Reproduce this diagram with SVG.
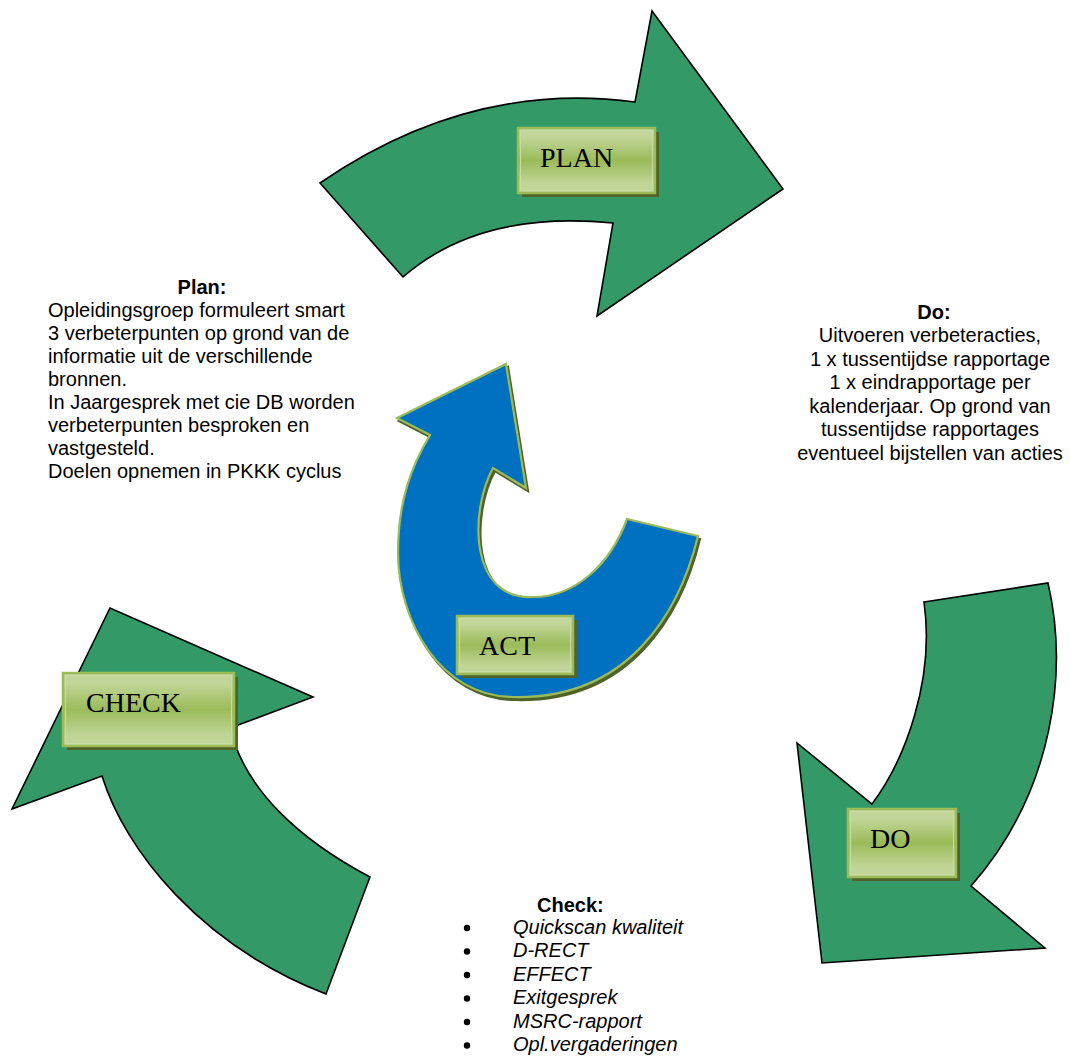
<svg xmlns="http://www.w3.org/2000/svg" width="1071" height="1061" viewBox="0 0 1071 1061">
<style>
.arrow{fill:#339966;stroke:#000;stroke-width:1.6;stroke-linejoin:miter}
.act{fill:#0070C0;stroke:#9BBB59;stroke-width:2.2}
.actsh{fill:#4F6228;stroke:#4F6228;stroke-width:2.2}
.boxsh{fill:#4F6228}
.box{fill:url(#boxg);stroke:#9BBB59;stroke-width:2.5}
.boxin{fill:none;stroke:#C9DCA6;stroke-width:1}
.lbl{font-family:"Liberation Serif","Times New Roman",serif;font-size:28px;fill:#000}
.t{font-family:"Liberation Sans",Arial,sans-serif;font-size:20px;fill:#000}
.bul{fill:#000}
.b{font-weight:bold}
.i{font-style:italic}
</style>
<defs>
<linearGradient id="boxg" x1="0" y1="0" x2="0" y2="1">
<stop offset="0" stop-color="#C3D69B"/>
<stop offset="0.15" stop-color="#C0D597"/>
<stop offset="0.5" stop-color="#9BBB59"/>
<stop offset="0.85" stop-color="#C0D597"/>
<stop offset="1" stop-color="#C3D69B"/>
</linearGradient>
</defs>
<g id="connectors"></g>
<g id="plan">
<path class="arrow" d="M320,183 Q470,80 635,102 L652,11 L783,189 L597,316 L613,223 Q480,210 403,277 Z"/>
<rect class="boxsh" x="522" y="132" width="137" height="65"/>
<rect class="box" x="518" y="128" width="137" height="65"/>
<rect class="boxin" x="520.5" y="130.5" width="132" height="60"/>
<text class="lbl" x="540" y="167">PLAN</text>
</g>
<g id="do">
<path class="arrow" d="M924,602 L1048,583 C1068,670 1055,790 971,886 L1045,948 L822,963 L797,743 L872,804 C905,760 935,680 924,602 Z"/>
<rect class="boxsh" x="852" y="813" width="108" height="68"/>
<rect class="box" x="848" y="809" width="108" height="68"/>
<rect class="boxin" x="850.5" y="811.5" width="103" height="63"/>
<text class="lbl" x="870" y="848">DO</text>
</g>
<g id="check">
<path class="arrow" d="M102,776 C125,850 200,945 326,994 L370,877 C300,840 245,790 230,728 L313,697 L110,608 L12,809 Z"/>
<rect class="boxsh" x="67" y="677" width="171" height="73"/>
<rect class="box" x="63" y="673" width="171" height="73"/>
<rect class="boxin" x="65.5" y="675.5" width="166" height="68"/>
<text class="lbl" x="86" y="712">CHECK</text>
</g>
<g id="act">
<path class="actsh" transform="translate(2,3)" d="M506,364 L526,488 L493,468 C470,510 468,600 533,597 C575,597 610,565 627,519 L698,536 C680,610 630,700 513,697 C440,697 398,620 398,553 C398,500 412,465 430,435 L397,418 Z"/>
<path class="act" d="M506,364 L526,488 L493,468 C470,510 468,600 533,597 C575,597 610,565 627,519 L698,536 C680,610 630,700 513,697 C440,697 398,620 398,553 C398,500 412,465 430,435 L397,418 Z"/>
<rect class="boxsh" x="461" y="620" width="116" height="58"/>
<rect class="box" x="457" y="616" width="116" height="58"/>
<rect class="boxin" x="459.5" y="618.5" width="111" height="53"/>
<text class="lbl" x="479" y="655">ACT</text>
</g>
<g id="plan-text">
<text class="t b" x="202" y="294" text-anchor="middle">Plan:</text>
<text class="t" x="48" y="317">Opleidingsgroep formuleert smart</text>
<text class="t" x="48" y="340">3 verbeterpunten op grond van de</text>
<text class="t" x="48" y="363">informatie uit de verschillende</text>
<text class="t" x="48" y="386">bronnen.</text>
<text class="t" x="48" y="409">In Jaargesprek met cie DB worden</text>
<text class="t" x="48" y="432">verbeterpunten besproken en</text>
<text class="t" x="48" y="455">vastgesteld.</text>
<text class="t" x="48" y="478">Doelen opnemen in PKKK cyclus</text>
</g>
<g id="do-text">
<text class="t b" x="934" y="318.5" text-anchor="middle">Do:</text>
<text class="t" x="930" y="342" text-anchor="middle">Uitvoeren verbeteracties,</text>
<text class="t" x="930" y="365.5" text-anchor="middle">1 x tussentijdse rapportage</text>
<text class="t" x="930" y="389" text-anchor="middle">1 x eindrapportage per</text>
<text class="t" x="930" y="412.5" text-anchor="middle">kalenderjaar. Op grond van</text>
<text class="t" x="930" y="436" text-anchor="middle">tussentijdse rapportages</text>
<text class="t" x="930" y="459.5" text-anchor="middle">eventueel bijstellen van acties</text>
</g>
<g id="check-text">
<text class="t b" x="537" y="912">Check:</text>
<circle class="bul" cx="467" cy="928" r="3.2"/>
<text class="t i" x="513" y="933.5">Quickscan kwaliteit</text>
<circle class="bul" cx="467" cy="951.5" r="3.2"/>
<text class="t i" x="513" y="957">D-RECT</text>
<circle class="bul" cx="467" cy="975" r="3.2"/>
<text class="t i" x="513" y="980.5">EFFECT</text>
<circle class="bul" cx="467" cy="998.5" r="3.2"/>
<text class="t i" x="513" y="1004">Exitgesprek</text>
<circle class="bul" cx="467" cy="1022" r="3.2"/>
<text class="t i" x="513" y="1027.5">MSRC-rapport</text>
<circle class="bul" cx="467" cy="1045.5" r="3.2"/>
<text class="t i" x="513" y="1051">Opl.vergaderingen</text>
</g>
</svg>
